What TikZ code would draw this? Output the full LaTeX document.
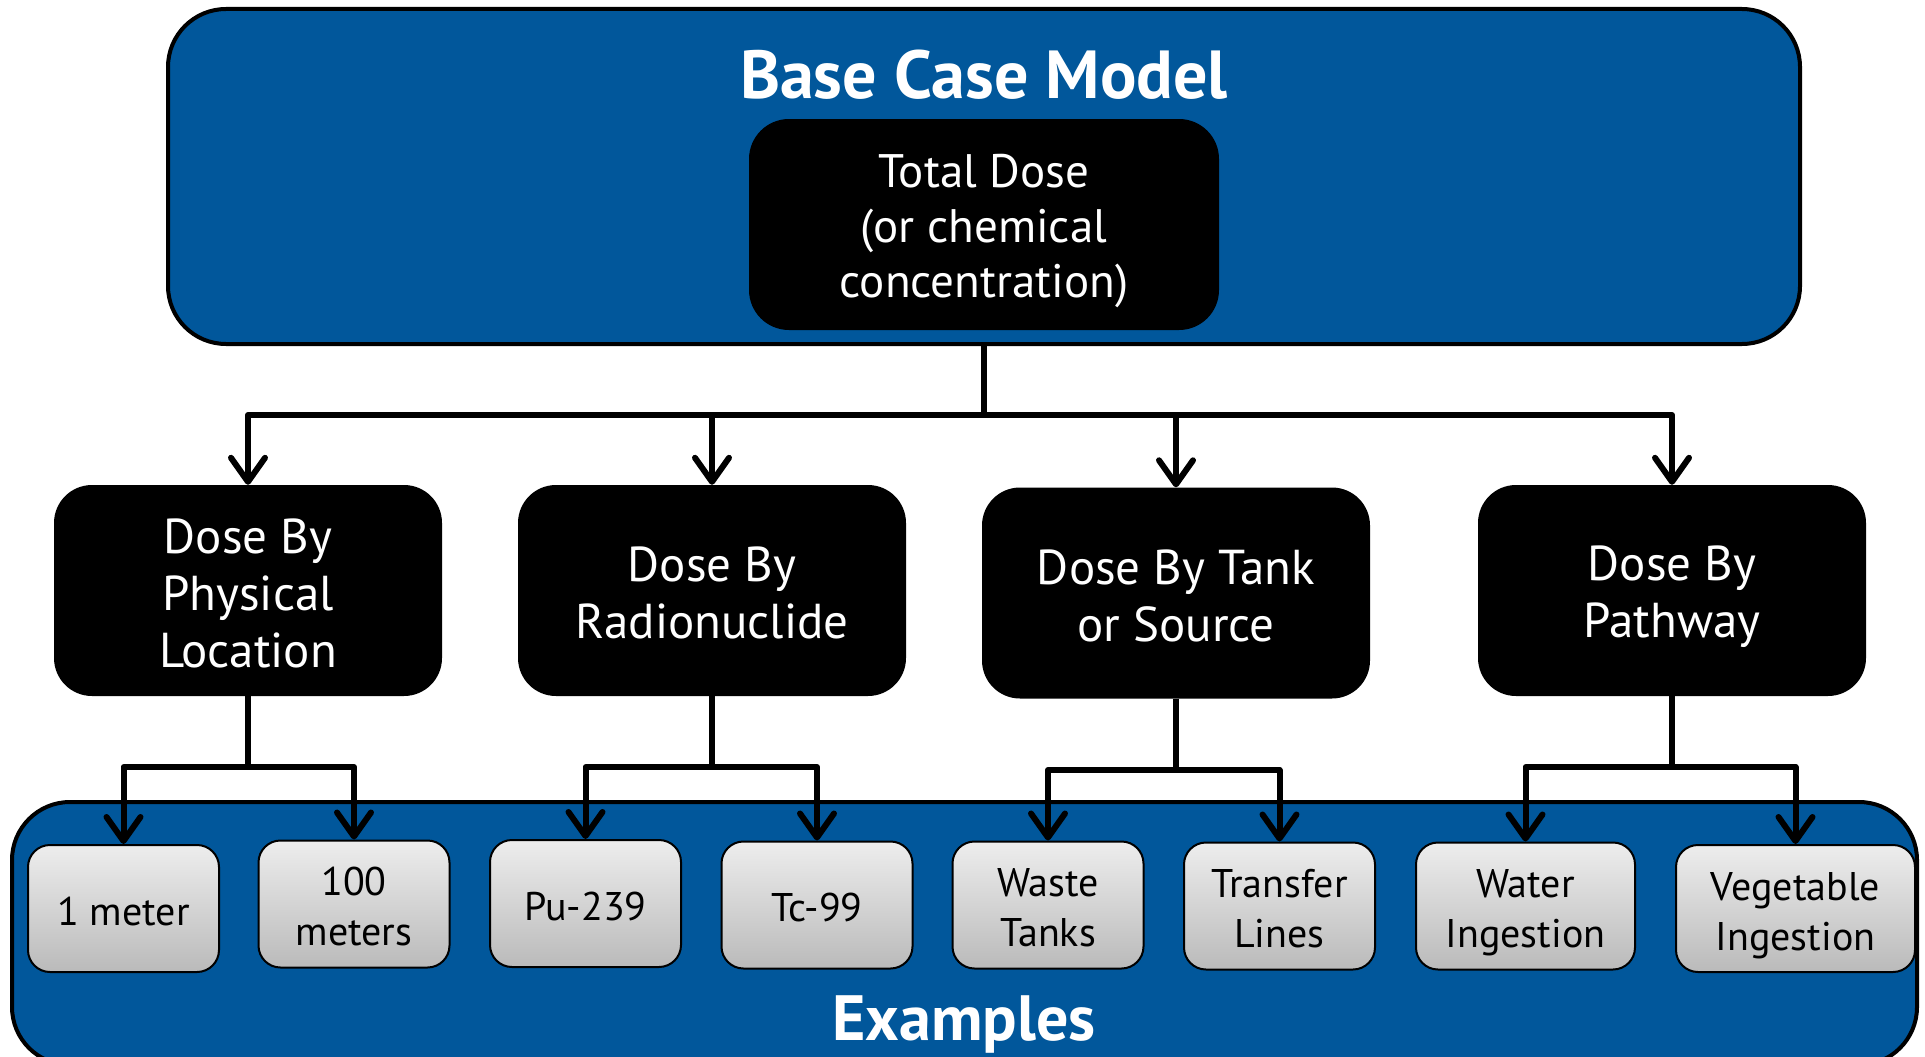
\documentclass[tikz,border=0pt]{standalone}
\usepackage{fontspec}
\setmainfont{PT Sans}
\usetikzlibrary{arrows.meta}
\definecolor{bbl}{RGB}{1,87,155}
\newcommand{\mystrut}[2]{\rule[-#2]{0pt}{\dimexpr#1+#2\relax}}
\newcommand{\sA}{\mystrut{48pt}{0pt}}
\newcommand{\sT}{\mystrut{46.5pt}{0pt}}
\newcommand{\sG}{\mystrut{41.5pt}{0pt}}
\begin{document}
\begin{tikzpicture}[x=1pt,y=-1pt,
  container/.style={draw=black,line width=4pt,fill=bbl,rounded corners=58pt,inner sep=0pt},
  blackbox/.style={fill=black,text=white,rounded corners=38pt,minimum width=388pt,minimum height=211pt,align=center,inner sep=0pt,font=\fontsize{49}{57}\selectfont,
    execute at end node={\mystrut{0pt}{9pt}}},
  totalbox/.style={fill=black,text=white,minimum width=470pt,minimum height=211pt,rounded corners=40pt,align=center,inner sep=0pt,font=\fontsize{47}{55}\selectfont,
    execute at end node={\mystrut{0pt}{8.5pt}}},
  greybox/.style={draw=black,line width=2pt,top color=black!7,bottom color=black!27,rounded corners=22pt,minimum height=127pt,minimum width=191pt,align=center,inner sep=0pt,font=\fontsize{40}{50}\selectfont,
    execute at end node={\mystrut{0pt}{8.5pt}}},
  conn/.style={line width=6pt,line join=round,-{Straight Barb[length=24pt,width=34pt,round]}},
  title/.style={text=white,font=\bfseries\fontsize{68}{74}\selectfont,inner sep=0pt}]
\useasboundingbox (0,0) rectangle (1925,1057);
% containers
\node[container,minimum width=1632pt,minimum height=335pt] (base) at (984,176.5) {};
\node[container,minimum width=1905pt,minimum height=263pt] (ex) at (964.5,933.5) {};
\node[title] (basetitle) at (984,75) {Base Case Model};
\node[title,font=\bfseries\fontsize{64}{70}\selectfont,anchor=base] (extitle) at (964,1040) {Examples};
% total
\node[totalbox] (total) at (984,224.5) {\sT Total Dose\\(or chemical\\concentration)};
% level 2
\node[blackbox] (d1) at (248,590.5) {\sA Dose By\\Physical\\Location};
\node[blackbox] (d2) at (712,590.5) {\sA Dose By\\Radionuclide};
\node[blackbox] (d3) at (1176,593) {\sA Dose By Tank\\or Source};
\node[blackbox] (d4) at (1672,590.5) {\sA Dose By\\Pathway};
% examples
\node[greybox] (e1) at (123.5,908.5) {\sG 1 meter};
\node[greybox] (e2) at (354,904) {\sG 100\\meters};
\node[greybox] (e3) at (585.5,903.5) {\sG Pu-239};
\node[greybox] (e4) at (817,905) {\sG Tc-99};
\node[greybox] (e5) at (1048,905) {\sG Waste\\Tanks};
\node[greybox] (e6) at (1279.5,906) {\sG Transfer\\Lines};
\node[greybox,minimum width=219pt] (e7) at (1525.5,906) {\sG Water\\Ingestion};
\node[greybox,minimum width=239pt] (e8) at (1795.5,908.5) {\sG Vegetable\\Ingestion};
% connectors
\coordinate (bus) at (0,415);
\foreach \d in {d1,d2,d3,d4}
  \draw[conn] (base.south) -- (base.south |- bus) -| (\d.north);
\coordinate (bus1) at (0,767);
\coordinate (bus3) at (0,770);
\draw[conn] (d1.south) -- (d1.south |- bus1) -| (e1.north);
\draw[conn] (d1.south) -- (d1.south |- bus1) -| (e2.north);
\draw[conn] (d2.south) -- (d2.south |- bus1) -| (e3.north);
\draw[conn] (d2.south) -- (d2.south |- bus1) -| (e4.north);
\draw[conn] (d3.south) -- (d3.south |- bus3) -| (e5.north);
\draw[conn] (d3.south) -- (d3.south |- bus3) -| (e6.north);
\draw[conn] (d4.south) -- (d4.south |- bus1) -| (e7.north);
\draw[conn] (d4.south) -- (d4.south |- bus1) -| (e8.north);
\end{tikzpicture}
\end{document}
